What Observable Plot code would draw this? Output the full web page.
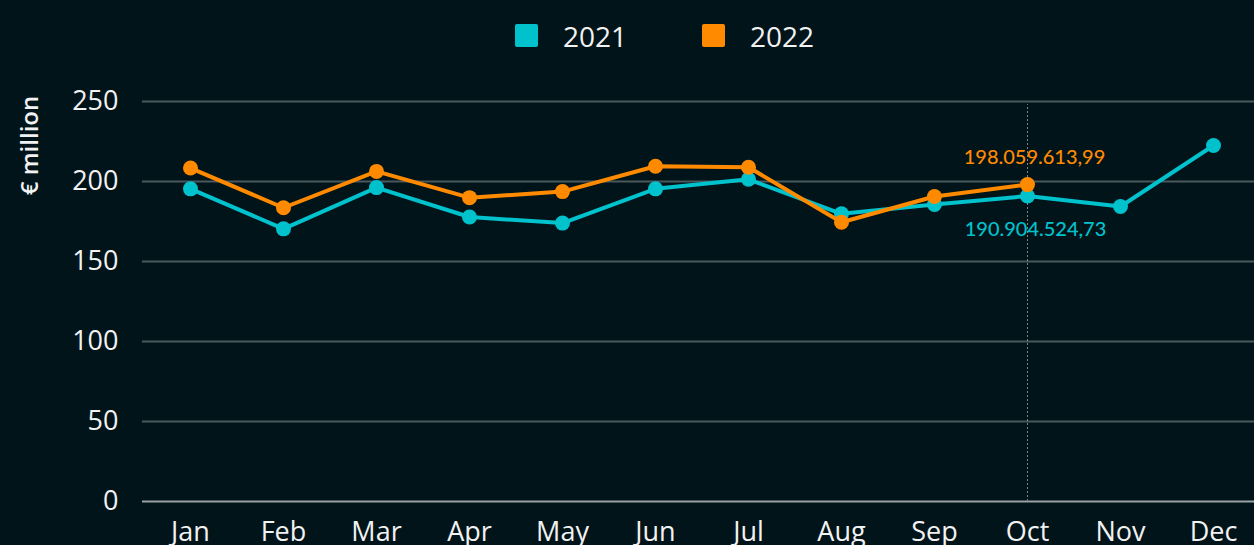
<!DOCTYPE html>
<html>
<head>
<meta charset="utf-8">
<script src="https://cdn.jsdelivr.net/npm/d3@7"></script>
<script src="https://cdn.jsdelivr.net/npm/@observablehq/plot@0.6"></script>
<style>
  html, body { margin: 0; padding: 0; background: #01141a; overflow: hidden; width: 1254px; height: 545px; }
  #wrap { position: relative; width: 1254px; height: 545px; }
  #legend { position: relative; height: 72px; font-family: "Open Sans", sans-serif; color: #f2f2f2; font-size: 28px; }
  .sw { position: absolute; top: 24px; width: 23px; height: 23px; border-radius: 2px; }
  .lt { position: absolute; top: 15px; line-height: 42px; }
  #chart svg { display: block; }
</style>
</head>
<body>
<div id="wrap">
  <div id="legend"></div>
  <div id="chart"></div>
</div>
<script>
const months = ["Jan","Feb","Mar","Apr","May","Jun","Jul","Aug","Sep","Oct","Nov","Dec"];
const series = ["2021", "2022"];
const colors = ["#00c2cd", "#ff8a00"];
const values2021 = [195.4, 170.4, 196.2, 177.8, 174.0, 195.4, 201.4, 179.8, 185.6, 190.9, 184.4, 222.5];
const values2022 = [208.4, 183.6, 206.3, 189.9, 193.7, 209.5, 208.9, 174.5, 190.6, 198.06];
const yTicks = [0, 50, 100, 150, 200, 250];
const annotMonth = "Oct";
const annotLabels = ["190.904.524,73", "198.059.613,99"];
const yLabel = "€ million";

// legend
const legend = document.getElementById("legend");
const legendPos = [[515, 563], [702, 750]];
series.forEach((s, i) => {
  const sw = document.createElement("div");
  sw.className = "sw"; sw.style.left = legendPos[i][0] + "px"; sw.style.background = colors[i];
  const t = document.createElement("div");
  t.className = "lt"; t.style.left = legendPos[i][1] + "px"; t.textContent = s;
  legend.appendChild(sw); legend.appendChild(t);
});

const d2021 = values2021.map((v, i) => ({month: months[i], value: v}));
const d2022 = values2022.map((v, i) => ({month: months[i], value: v}));
const oct2021 = d2021.find(d => d.month === annotMonth);
const oct2022 = d2022.find(d => d.month === annotMonth);

const chart = Plot.plot({
  width: 1254,
  height: 490,
  marginLeft: 142,
  marginRight: 0,
  marginTop: 29,
  marginBottom: 61,
  style: {background: "transparent", color: "#f2f2f2", fontFamily: "Open Sans, sans-serif", fontSize: "27px"},
  x: {type: "point", domain: months, range: [188, 1214], padding: 0, label: null, tickSize: 0, tickPadding: 20},
  y: {domain: [0, 250], ticks: yTicks, label: null, tickSize: 0, tickPadding: 24},
  marks: [
    Plot.ruleY(yTicks.filter(t => t > 0), {stroke: "#4b585c", strokeWidth: 2}),
    Plot.ruleY([0], {stroke: "#9aa2a4", strokeWidth: 2}),
    Plot.ruleX([annotMonth], {y1: 0, y2: 248, stroke: "#7c8688", strokeWidth: 1, strokeDasharray: "2,2"}),
    Plot.line(d2021, {x: "month", y: "value", stroke: colors[0], strokeWidth: 4}),
    Plot.dot(d2021, {x: "month", y: "value", fill: colors[0], r: 7.5}),
    Plot.line(d2022, {x: "month", y: "value", stroke: colors[1], strokeWidth: 4}),
    Plot.dot(d2022, {x: "month", y: "value", fill: colors[1], r: 7.5}),
    Plot.text([oct2022], {x: "month", y: "value", text: () => annotLabels[1], fill: colors[1], dx: 7, dy: -27, fontSize: 20, fontWeight: 500, fontFamily: "Lato, sans-serif"}),
    Plot.text([oct2021], {x: "month", y: "value", text: () => annotLabels[0], fill: colors[0], dx: 8, dy: 34, fontSize: 20, fontWeight: 500, fontFamily: "Lato, sans-serif"}),
    Plot.text([yLabel], {frameAnchor: "top-left", textAnchor: "middle", lineAnchor: "middle", dx: -112, dy: 44, rotate: -90, fill: "#f2f2f2", fontSize: 24, fontWeight: 600, fontFamily: "Open Sans, sans-serif"})
  ]
});
document.getElementById("chart").appendChild(chart);
</script>
</body>
</html>
